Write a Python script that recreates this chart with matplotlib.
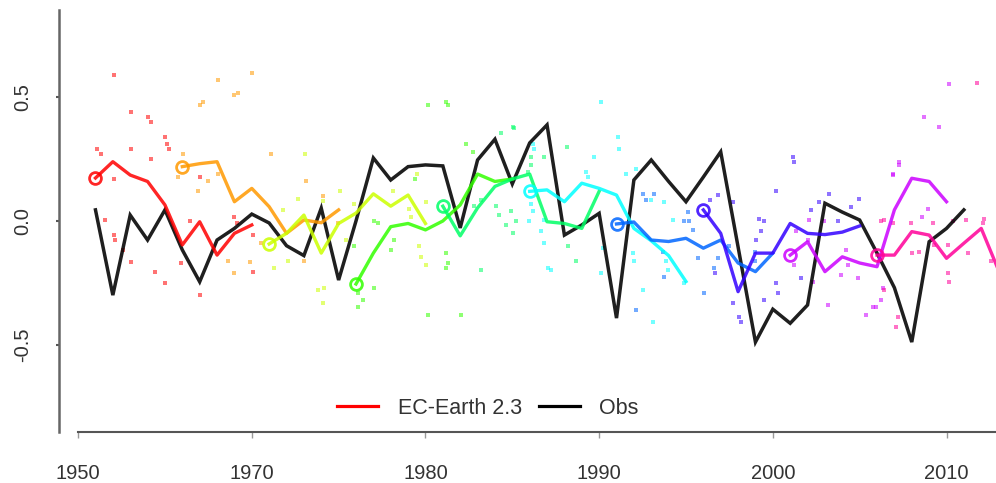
import matplotlib
matplotlib.use("Agg")
import matplotlib.pyplot as plt
from matplotlib.lines import Line2D

# ---------------- data ----------------
obs_years = list(range(1961, 2012))
obs_values = [0.045, -0.30, 0.024, -0.077, 0.045, -0.117, -0.246, -0.077, -0.03, 0.028,
              -0.008, -0.10, -0.14, 0.052, -0.239, 0.0, 0.255, 0.166, 0.22, 0.227,
              0.223, -0.028, 0.247, 0.331, 0.15, 0.316, 0.389, -0.057, -0.016, 0.031,
              -0.393, 0.166, 0.247, 0.16, 0.078, 0.178, 0.28, -0.105, -0.49, -0.357,
              -0.414, -0.34, 0.072, 0.036, 0.004, -0.13, -0.27, -0.49, -0.084, -0.03,
              0.045]

start_years = [1961, 1966, 1971, 1976, 1981, 1986, 1991, 1996, 2001, 2006]
forecast_colors = ["#FF0000", "#FF9900", "#CCFF00", "#33FF00", "#00FF66",
                   "#00FFFF", "#0066FF", "#3300FF", "#CC00FF", "#FF0099"]

forecast_means = [
    [0.174, 0.24, 0.186, 0.16, 0.065, -0.097, -0.003, -0.138, -0.05, -0.016],
    [0.22, 0.232, 0.24, 0.078, 0.132, 0.058, -0.05, 0.004, -0.007, 0.045],
    [-0.093, -0.05, 0.024, -0.13, -0.01, 0.032, 0.11, 0.06, 0.105, -0.01],
    [-0.255, -0.13, -0.023, -0.01, -0.036, 0.0, 0.065, 0.19, 0.16, 0.17],
    [0.06, -0.06, 0.053, 0.14, 0.17, 0.19, -0.003, -0.01, -0.03, 0.12],
    [0.12, 0.126, 0.078, 0.153, 0.132, 0.105, -0.03, -0.08, -0.14, -0.245],
    [-0.012, -0.004, -0.077, -0.083, -0.07, -0.11, -0.077, -0.17, -0.205, -0.13],
    [0.045, -0.05, -0.286, -0.13, -0.13, -0.01, -0.05, -0.055, -0.045, -0.02],
    [-0.138, -0.084, -0.205, -0.145, -0.17, -0.185, 0.045, 0.173, 0.16, 0.078],
    [-0.138, -0.138, -0.043, -0.057, -0.151, -0.09, -0.03, -0.2],
]

# ensemble member dots (year, value) per forecast
member_years = [
    [1962.04, 1963.06, 1964.05, 1964.17, 1965.03, 1965.13, 1965.26, 1961.1, 1961.29, 1963.06,
     1964.17, 1962.04, 1961.52, 1962.04, 1962.13, 1962.58, 1963.06, 1964.4, 1965.03, 1967.04,
     1965.93, 1966.47, 1969.0, 1969.16, 1970.06, 1970.06, 1967.04],
    [1970.02, 1968.05, 1969.2, 1969.0, 1967.18, 1967.04, 1966.03, 1965.74, 1966.9, 1967.47,
     1968.05, 1971.12, 1969.0, 1969.87, 1968.62, 1970.54, 1973.13, 1973.03, 1974.95, 1974.09],
    [1973.09, 1975.1, 1974.09, 1972.65, 1971.79, 1971.3, 1972.08, 1973.8, 1974.18, 1974.09,
     1978.12, 1979.08, 1979.18, 1979.65, 1979.75, 1980.04, 1980.04, 1975.91, 1975.43, 1979.52],
    [1977.03, 1975.88, 1976.1, 1976.39, 1976.1, 1977.03, 1978.02, 1978.21, 1977.26, 1980.14,
     1979.37, 1980.14, 1981.19, 1981.29, 1981.19, 1981.29, 1981.19, 1982.05, 1982.34, 1982.73],
    [1983.19, 1984.07, 1984.26, 1984.65, 1985.03, 1985.03, 1985.12, 1984.36, 1986.08, 1986.08,
     1985.89, 1986.85, 1988.16, 1988.2, 1988.67, 1984.93, 1985.22, 1983.19, 1982.8],
    [1990.11, 1991.07, 1991.16, 1986.18, 1986.27, 1986.08, 1986.18, 1985.99, 1986.85, 1986.66,
     1986.85, 1987.05, 1987.24, 1989.26, 1989.35, 1989.73, 1990.11, 1990.21, 1991.94, 1992.03,
     1991.55, 1992.13, 1992.99, 1993.72, 1993.86, 1993.95, 1992.51, 1993.09, 1994.24, 1994.91],
    [1992.13, 1993.76, 1993.67, 1995.1, 1995.2, 1994.91, 1995.69, 1996.06, 1996.64, 1996.83,
     1997.5, 1999.0, 1999.0, 1992.51, 1992.7, 1993.18, 1995.39],
    [2001.15, 2001.24, 2000.19, 1999.23, 1999.51, 1999.32, 1999.03, 1998.07, 1998.17, 2000.29,
     2000.19, 1999.51, 2002.2, 2002.68, 2003.26, 2003.74, 2004.98, 2004.5, 1996.37, 1996.85,
     1997.71, 1996.69, 1997.71, 2001.63],
    [2002.1, 2002.97, 2004.22, 2004.32, 2003.93, 2004.89, 2003.16, 2002.3, 2001.24, 2001.34,
     2002.01, 2007.29, 2006.91, 2010.15, 2008.73, 2009.59, 2007.26, 2006.92, 2005.37, 2005.94,
     2005.75, 2006.23, 2006.32, 2008.57, 2008.96],
    [2006.23, 2006.42, 2006.9, 2007.96, 2009.21, 2010.36, 2011.13, 2012.09, 2012.18, 2010.07,
     2011.22, 2012.56, 2010.07, 2010.16, 2007.12, 2007.21, 2006.42, 2008.42, 2008.04, 2009.28,
     2011.76],
]
member_values = [
    [0.59, 0.44, 0.42, 0.40, 0.34, 0.31, 0.29, 0.29, 0.27, 0.29,
     0.25, 0.17, 0.004, -0.057, -0.077, -0.117, -0.165, -0.205, -0.25, -0.30,
     -0.17, 0.0, 0.017, -0.01, -0.057, -0.205, 0.18],
    [0.60, 0.57, 0.52, 0.51, 0.48, 0.47, 0.27, 0.18, 0.12, 0.16,
     0.19, 0.27, -0.21, -0.165, -0.16, -0.09, 0.16, -0.16, -0.01, 0.10],
    [0.27, 0.12, 0.08, 0.09, 0.045, -0.19, -0.16, -0.28, -0.27, -0.33,
     0.12, 0.05, 0.017, -0.10, -0.145, -0.18, 0.078, 0.07, -0.077, 0.19],
    [0.0, -0.10, -0.29, -0.32, -0.35, -0.27, -0.117, -0.077, -0.01, -0.38,
     0.17, 0.47, 0.48, 0.47, -0.13, -0.17, -0.19, -0.38, 0.31, 0.28],
    [-0.2, 0.06, 0.024, -0.016, -0.05, 0.38, 0.375, 0.355, 0.26, 0.227,
     0.20, 0.26, 0.30, -0.10, -0.16, 0.04, 0.0, 0.085, 0.06],
    [0.48, 0.34, 0.29, 0.31, 0.29, 0.07, 0.04, 0.0, 0.004, -0.04,
     -0.09, -0.19, -0.20, 0.20, 0.18, 0.26, -0.21, -0.11, -0.13, -0.16,
     0.19, 0.21, 0.085, 0.078, -0.16, -0.20, -0.28, -0.41, 0.004, -0.25],
    [-0.36, -0.225, -0.124, 0.038, 0.0, 0.0, -0.15, -0.29, -0.19, -0.15,
     -0.10, -0.16, -0.124, 0.11, 0.085, 0.11, -0.036],
    [0.26, 0.24, 0.12, 0.01, 0.0, -0.04, -0.077, -0.39, -0.41, -0.29,
     -0.25, -0.32, 0.045, 0.078, 0.11, 0.0, 0.09, 0.058, 0.085, 0.105,
     0.078, -0.21, -0.33, -0.23],
    [0.004, 0.0, -0.117, -0.178, -0.22, -0.23, -0.34, -0.245, -0.178, -0.04,
     -0.077, 0.227, 0.186, 0.555, 0.42, 0.38, 0.24, 0.19, -0.38, -0.35,
     -0.35, -0.32, -0.27, 0.017, 0.05],
    [0.0, 0.004, -0.01, -0.01, -0.01, 0.0, 0.004, -0.01, 0.01, -0.097,
     -0.13, -0.16, -0.21, -0.245, -0.43, -0.39, -0.28, -0.124, -0.13, -0.097,
     0.56],
]

x_tick_positions = [1960, 1970, 1980, 1990, 2000, 2010]
x_tick_labels = ["1950", "1970", "1980", "1990", "2000", "2010"]
y_tick_positions = [-0.5, 0.0, 0.5]
y_tick_labels = ["-0.5", "0.0", "0.5"]
legend_labels = ["EC-Earth 2.3", "Obs"]

# ---------------- figure ----------------
plt.rcParams['font.family'] = ['Liberation Sans', 'DejaVu Sans']
fig = plt.figure(figsize=(9.96, 4.83), dpi=100)
ax = fig.add_axes([59 / 996, 51 / 483, 1 - 59 / 996, 422 / 483])
ax.set_xlim(1958.9, 2012.85)
ax.set_ylim(-0.854, 0.854)

# ensemble dots
for i, col in enumerate(forecast_colors):
    ax.scatter(member_years[i], member_values[i], s=6, marker='s', color=col,
               alpha=0.55, linewidths=0, zorder=2)

# observations
ax.plot(obs_years, obs_values, color='black', lw=2.5, alpha=0.88,
        solid_joinstyle='miter', zorder=3)

# forecasts
for i, col in enumerate(forecast_colors):
    vals = forecast_means[i]
    yrs = [start_years[i] + k for k in range(len(vals))]
    ax.plot(yrs, vals, color=col, lw=2.4, alpha=0.85, zorder=4)
    ax.plot([yrs[0]], [vals[0]], marker='o', ms=8.5, mfc='none', mec=col,
            mew=2.0, alpha=0.85, zorder=5)

# axes styling
for s in ['top', 'right']:
    ax.spines[s].set_visible(False)
ax.spines['left'].set_color('#666666')
ax.spines['left'].set_linewidth(1.8)
ax.spines['bottom'].set_color('#555555')
ax.spines['bottom'].set_linewidth(1.5)
ax.spines['bottom'].set_bounds(1960, 2012.85)

ax.set_xticks(x_tick_positions)
ax.set_xticklabels(x_tick_labels)
ax.set_yticks(y_tick_positions)
ax.set_yticklabels(y_tick_labels, rotation=90, va='center')
ax.tick_params(axis='x', length=4, width=1, color='#999999', pad=19,
               labelsize=14.5, labelcolor='#333333')
ax.tick_params(axis='y', length=2, width=1.5, color='#555555', pad=17,
               labelsize=14.5, labelcolor='#333333')

handles = [Line2D([0], [0], color='#FF0000', lw=2.3),
           Line2D([0], [0], color='black', lw=2.3)]
leg = fig.legend(handles, legend_labels, loc='center', ncol=2,
                 bbox_to_anchor=(0.49, 0.155), frameon=False, fontsize=15.5,
                 handlelength=1.9, handletextpad=0.9, columnspacing=0.8)
for t in leg.get_texts():
    t.set_color('#333333')

fig.savefig('out.png', dpi=100)
